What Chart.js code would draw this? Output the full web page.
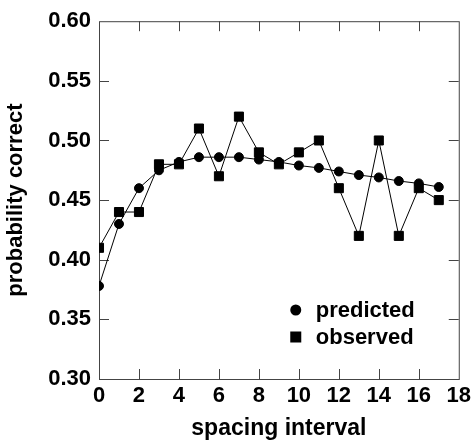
<!DOCTYPE html>
<html>
<head>
<meta charset="utf-8">
<script src="https://cdn.jsdelivr.net/npm/chart.js@4"></script>
<style>
  html, body { margin: 0; padding: 0; background: #fff; }
  #wrap { width: 475px; height: 442px; }
</style>
</head>
<body>
<div id="wrap"><canvas id="chart" width="475" height="442"></canvas></div>
<script>
const intervals = [0, 1, 2, 3, 4, 5, 6, 7, 8, 9, 10, 11, 12, 13, 14, 15, 16, 17];
const predicted = [0.378, 0.430, 0.460, 0.475, 0.482, 0.486, 0.486, 0.486, 0.484, 0.482, 0.479, 0.477, 0.474, 0.471, 0.469, 0.466, 0.464, 0.461];
const observed = [0.41, 0.44, 0.44, 0.48, 0.48, 0.51, 0.47, 0.52, 0.49, 0.48, 0.49, 0.50, 0.46, 0.42, 0.50, 0.42, 0.46, 0.45];
const xTicks = [0, 2, 4, 6, 8, 10, 12, 14, 16, 18];
const yTicks = [0.30, 0.35, 0.40, 0.45, 0.50, 0.55, 0.60];

const FONT = 'Liberation Sans, Arial, sans-serif';
const frameColor = '#444';

const toPoints = (values) => values.map((v, i) => ({ x: intervals[i], y: v }));

// frame plus inward tick marks on all four sides
const framePlugin = {
  id: 'frame',
  beforeDatasetsDraw(chart) {
    const { ctx, chartArea: a, scales } = chart;
    const len = 10;
    ctx.save();
    ctx.strokeStyle = frameColor;
    ctx.lineWidth = 1;
    ctx.strokeRect(a.left + 0.5, a.top + 0.5, a.right - a.left, a.bottom - a.top);
    ctx.beginPath();
    xTicks.slice(1, -1).forEach((t) => {
      const px = Math.round(scales.x.getPixelForValue(t)) + 0.5;
      ctx.moveTo(px, a.bottom); ctx.lineTo(px, a.bottom - len);
      ctx.moveTo(px, a.top); ctx.lineTo(px, a.top + len);
    });
    yTicks.slice(1, -1).forEach((t) => {
      const py = Math.round(scales.y.getPixelForValue(t)) + 0.5;
      ctx.moveTo(a.left, py); ctx.lineTo(a.left + len, py);
      ctx.moveTo(a.right, py); ctx.lineTo(a.right - len, py);
    });
    ctx.stroke();
    ctx.restore();
  },
};

// legend drawn inside the plot, lower right
const legendPlugin = {
  id: 'insideLegend',
  afterDraw(chart) {
    const { ctx, chartArea: a } = chart;
    const mx = a.right - 163;
    const textX = a.right - 143;
    const rows = [
      { label: 'predicted', shape: 'circle', y: a.bottom - 69 },
      { label: 'observed', shape: 'square', y: a.bottom - 42 },
    ];
    ctx.save();
    ctx.fillStyle = '#000';
    ctx.font = `bold 22px ${FONT}`;
    ctx.textBaseline = 'middle';
    rows.forEach((r) => {
      if (r.shape === 'circle') {
        ctx.beginPath();
        ctx.arc(mx, r.y, 5.5, 0, Math.PI * 2);
        ctx.fill();
      } else {
        ctx.fillRect(mx - 5.5, r.y - 5.5, 11, 11);
      }
      ctx.fillText(r.label, textX, r.y + 1);
    });
    ctx.restore();
  },
};

new Chart(document.getElementById('chart'), {
  type: 'line',
  data: {
    datasets: [
      {
        label: 'predicted',
        data: toPoints(predicted),
        borderColor: '#000',
        backgroundColor: '#000',
        borderWidth: 1,
        pointStyle: 'circle',
        pointRadius: 4.5,
        tension: 0,
      },
      {
        label: 'observed',
        data: toPoints(observed),
        borderColor: '#000',
        backgroundColor: '#000',
        borderWidth: 1,
        pointStyle: 'rect',
        pointRadius: 6.4,
        tension: 0,
      },
    ],
  },
  options: {
    responsive: false,
    animation: false,
    layout: { padding: { left: 0, top: 16, right: 15, bottom: 0 } },
    plugins: {
      legend: { display: false },
      tooltip: { enabled: false },
    },
    scales: {
      x: {
        type: 'linear',
        min: 0,
        max: 18,
        afterFit: (scale) => { scale.height = 63; },
        afterBuildTicks: (scale) => { scale.ticks = xTicks.map((v) => ({ value: v })); },
        grid: { display: false, drawTicks: false },
        border: { display: false },
        ticks: {
          padding: 4,
          color: '#000',
          font: { family: FONT, size: 22, weight: 'bold' },
          maxRotation: 0,
        },
        title: {
          display: true,
          text: 'spacing interval',
          color: '#000',
          font: { family: FONT, size: 23, weight: 'bold' },
          padding: { top: 0, bottom: 0 },
        },
      },
      y: {
        type: 'linear',
        min: 0.30,
        max: 0.60,
        afterFit: (scale) => { scale.width = 99; },
        afterBuildTicks: (scale) => { scale.ticks = yTicks.map((v) => ({ value: v })); },
        grid: { display: false, drawTicks: false },
        border: { display: false },
        ticks: {
          padding: 8,
          color: '#000',
          font: { family: FONT, size: 22, weight: 'bold' },
          callback: (v) => Number(v).toFixed(2),
        },
        title: {
          display: true,
          text: 'probability correct',
          color: '#000',
          font: { family: FONT, size: 22, weight: 'bold' },
          padding: { top: 3, bottom: 0 },
        },
      },
    },
  },
  plugins: [framePlugin, legendPlugin],
});
</script>
</body>
</html>
